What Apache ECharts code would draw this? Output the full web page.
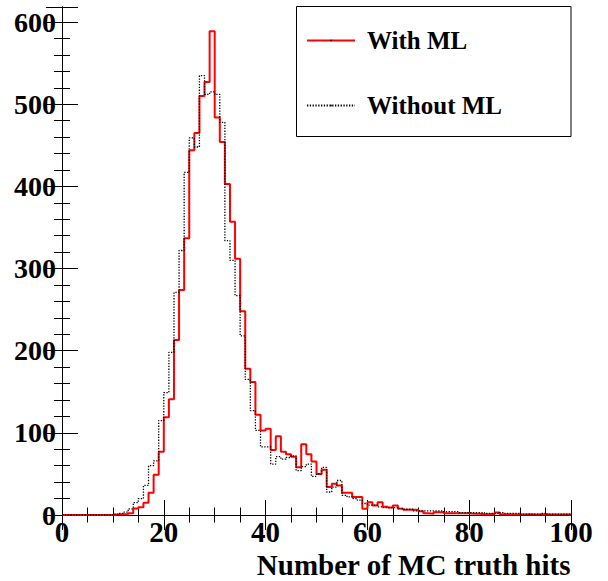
<!DOCTYPE html>
<html>
<head>
<meta charset="utf-8">
<script src="https://cdn.jsdelivr.net/npm/echarts@6/dist/echarts.min.js"></script>
<style>
html,body{margin:0;padding:0;background:#fff;}
#chart{width:608px;height:581px;}
</style>
</head>
<body>
<div id="chart"></div>
<script>
// Histogram: 100 bins of width 1 from 0 to 100 (value per bin, bin i covers [i, i+1))
const withML = [
  0,0,0,0,0,0,0,0,0,0,
  0.5,1,1,2,8,9.5,15,27,49,77,
  119,141,213,274,337,444,465,510,527,589,
  484,454,403,357,312,248,178,162,122,103,
  105,79,96,77,74,71,58,86,74,65,
  50,55,34,38,36,27,27,22,22,7.5,
  15.6,11.6,15.6,10,9,11.6,7.5,6.3,6.3,6.3,
  4.6,2.2,1.4,3.4,3.4,2,2,2,2,2,
  1.5,1.5,1,1,1.5,3,1,1,0.5,0.5,
  0.5,1,0.5,0.5,1,0.5,0.5,0.5,0.5,0.5
];
const withoutML = [
  0,0,0,0,0,0,0,0,0,0,
  1,2,3.5,7.5,15,20,36,60,66,115,
  149,198,271,322,417,459,448,535,512,515,
  512,478,334,310,267,218,165,127,103,83,
  83,62,71,68,70,72,54,59,62,47,
  50,58,28,34,42,24,22,20,18,14,
  12,12,10,9,9,9,8,7,7,5,
  5,5,5,5,5,4,4,4,3,3,
  3,3,3,2,2,2,3,2,2,2,
  1,1,1,1,2,1,1,1,1,1
];
const seriesNames = ['With ML', 'Without ML'];
const xTickLabels = [0, 20, 40, 60, 80, 100];
const yTickLabels = [0, 100, 200, 300, 400, 500, 600];
const xTitle = 'Number of MC truth hits';

const xMin = xTickLabels[0], xMax = xTickLabels[xTickLabels.length - 1];
const binWidth = (xMax - xMin) / withML.length;
function toSteps(vals) {
  const pts = vals.map((v, i) => [xMin + i * binWidth, v]);
  pts.push([xMax, vals[vals.length - 1]]);
  return pts;
}
const yMax = Math.max(...withML, ...withoutML) * 1.05; // ROOT default headroom

const FONT = 'Liberation Serif';
const baseX = {
  type: 'value', min: xMin, max: xMax, interval: 20,
  axisLine: {show: true, lineStyle: {color: '#000', width: 1}},
  axisTick: {show: true, inside: true, length: 15, lineStyle: {color: '#000'}},
  minorTick: {show: true, splitNumber: 4, length: 7.5, lineStyle: {color: '#000'}},
  splitLine: {show: false}, minorSplitLine: {show: false}
};
const baseY = {
  type: 'value', min: 0, max: yMax, interval: 100,
  axisLine: {show: true, lineStyle: {color: '#000', width: 1}},
  axisTick: {show: true, inside: true, length: 16, lineStyle: {color: '#000'}},
  minorTick: {show: true, splitNumber: 5, length: 8, lineStyle: {color: '#000'}},
  splitLine: {show: false}, minorSplitLine: {show: false}
};

const chart = echarts.init(document.getElementById('chart'), null, {renderer: 'svg'});
chart.setOption({
  animation: false,
  backgroundColor: '#fff',
  grid: {left: 62, top: 7, width: 509, height: 508, containLabel: false},
  title: {
    text: xTitle, right: 37, top: 553.5, padding: 0,
    textStyle: {fontSize: 29, lineHeight: 22, fontWeight: 'bold', fontFamily: FONT, color: '#000'}
  },
  xAxis: [
    Object.assign({}, baseX, {
      position: 'bottom',
      axisLabel: {show: true, margin: 7, fontSize: 29, lineHeight: 20, fontWeight: 'bold', fontFamily: FONT, color: '#000',
        formatter: v => (xTickLabels.indexOf(v) >= 0 ? String(v) : '')}
    }),
    Object.assign({}, baseX, {position: 'top', axisLabel: {show: false}})
  ],
  yAxis: [
    Object.assign({}, baseY, {
      position: 'left',
      axisLabel: {show: true, margin: 6, fontSize: 28, lineHeight: 22, fontWeight: 'bold', fontFamily: FONT, color: '#000',
        formatter: v => (yTickLabels.indexOf(v) >= 0 ? String(v) : '')}
    }),
    Object.assign({}, baseY, {position: 'right', axisLabel: {show: false}})
  ],
  legend: {
    data: seriesNames,
    orient: 'vertical',
    left: 306, top: 28,
    padding: 0,
    itemWidth: 48, itemHeight: 2, itemGap: 40,
    itemStyle: {color: '#000', borderWidth: 0},
    textStyle: {fontSize: 25, fontWeight: 'bold', fontFamily: FONT, color: '#000', padding: [0, 0, 0, 7]}
  },
  graphic: [{
    type: 'rect', silent: true, z: 10,
    shape: {x: 296.5, y: 6.5, width: 274.5, height: 130},
    style: {fill: 'none', stroke: '#000', lineWidth: 1}
  }],
  series: [
    {
      name: seriesNames[0], type: 'line', step: 'end', xAxisIndex: 0, yAxisIndex: 0,
      data: toSteps(withML), symbol: 'none', clip: false,
      lineStyle: {color: '#ff0000', width: 2}, itemStyle: {color: '#ff0000'}, z: 3
    },
    {
      name: seriesNames[1], type: 'line', step: 'end', xAxisIndex: 0, yAxisIndex: 0,
      data: toSteps(withoutML), symbol: 'none', clip: false,
      lineStyle: {color: '#000', width: 1.3, type: [1.3, 1.5]}, itemStyle: {color: '#000'}, z: 4
    }
  ]
});
</script>
</body>
</html>
